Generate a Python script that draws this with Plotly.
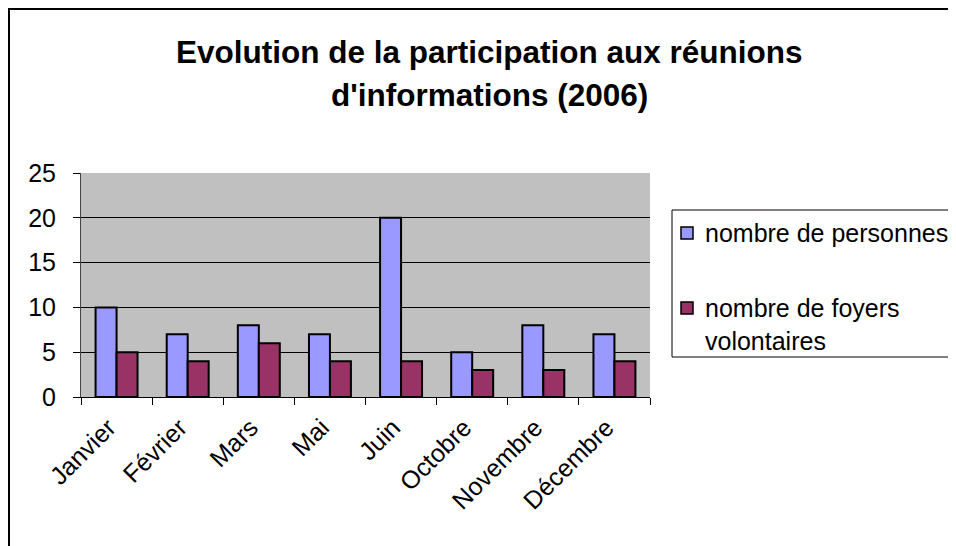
import plotly.graph_objects as go

# Data
mois = ["Janvier", "Février", "Mars", "Mai", "Juin", "Octobre", "Novembre", "Décembre"]
nb_personnes = [10, 7, 8, 7, 20, 5, 8, 7]
nb_foyers = [5, 4, 6, 4, 4, 3, 3, 4]

series_names = ["nombre de personnes", "nombre de foyers<br>volontaires"]
series_colors = ["#9999FF", "#993366"]

# page body has an 8px margin, so the figure starts at (8, 8) on screen
OFF = 8
W, H = 956 - OFF, 546 - OFF
L = 81 - OFF
T = 173 - OFF
R = W - (650 - OFF)
B = H - (397 - OFF)
pw, ph = W - L - R, H - T - B

def px_x(x):
    # screen x -> paper fraction
    return (x - OFF - L) / pw

def px_y(y):
    return (H - B - (y - OFF)) / ph

font = "Liberation Sans, Arial, sans-serif"

fig = go.Figure()
for vals, name, col in zip([nb_personnes, nb_foyers], series_names, series_colors):
    fig.add_trace(go.Bar(x=mois, y=vals, name=name,
                         marker=dict(color=col, line=dict(color="black", width=2))))

# title as two lines
fig.add_annotation(text="<b>Evolution de la participation aux réunions</b>",
                   xref="paper", yref="paper", x=px_x(489), y=px_y(52),
                   xanchor="center", yanchor="middle",
                   showarrow=False, font=dict(size=31.5, color="black", family=font))
fig.add_annotation(text="<b>d'informations (2006)</b>",
                   xref="paper", yref="paper", x=px_x(489), y=px_y(95),
                   xanchor="center", yanchor="middle",
                   showarrow=False, font=dict(size=31.5, color="black", family=font))

# chart area border (left and top visible)
fig.add_shape(type="rect", xref="paper", yref="paper",
              x0=px_x(9), x1=px_x(1100), y0=px_y(700), y1=px_y(9),
              line=dict(color="black", width=2), layer="below")

# legend drawn by hand so that it can run past the right edge like the original
fig.add_shape(type="rect", xref="paper", yref="paper",
              x0=px_x(672), x1=px_x(1100), y0=px_y(357), y1=px_y(210),
              line=dict(color="black", width=1), fillcolor="white")
for name, col, yc in zip(series_names, series_colors, [233, 308]):
    fig.add_shape(type="rect", xref="paper", yref="paper",
                  x0=px_x(681), x1=px_x(693), y0=px_y(yc + 6), y1=px_y(yc - 6),
                  line=dict(color="black", width=1.5), fillcolor=col)
    fig.add_annotation(text=name, xref="paper", yref="paper",
                       x=px_x(703), y=px_y(yc - 16), xanchor="left", yanchor="top",
                       align="left", showarrow=False,
                       font=dict(size=25, color="black", family=font))

fig.update_layout(
    width=W, height=H,
    margin=dict(l=L, r=R, t=T, b=B),
    paper_bgcolor="white",
    plot_bgcolor="#C0C0C0",
    barmode="group",
    bargap=0.41,
    bargroupgap=0,
    font=dict(family=font, size=25, color="black"),
    showlegend=False,
    xaxis=dict(showline=True, linecolor="black", linewidth=1,
               ticks="outside", tickson="boundaries", ticklen=7, tickcolor="black",
               tickangle=-45, tickfont=dict(size=25), ticklabelshift=-8,
               ticklabelstandoff=5),
    yaxis=dict(range=[0, 25], dtick=5, showline=True, linecolor="#444444", linewidth=1,
               ticks="outside", ticklen=7, tickcolor="black", ticklabelstandoff=12,
               showgrid=True, gridcolor="black", gridwidth=1,
               zeroline=False, tickfont=dict(size=25)),
)

fig.write_html("out.html")
